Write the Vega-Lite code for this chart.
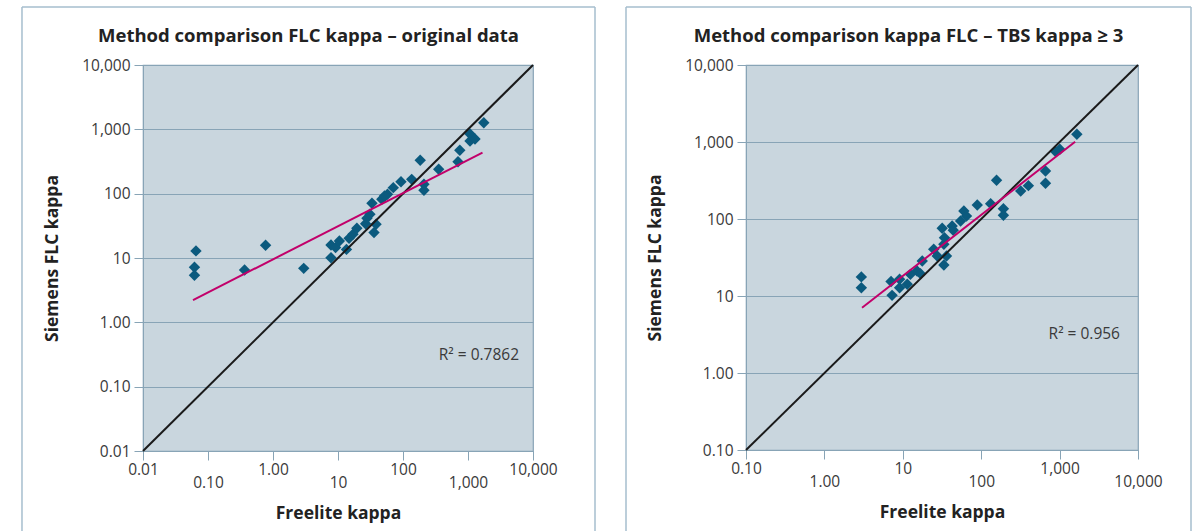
{
  "$schema": "https://vega.github.io/schema/vega-lite/v6.json",
  "padding": {"left": 20, "top": 5, "right": 0, "bottom": 0},
  "background": "white",
  "spacing": 27,
  "config": {
    "view": {"fill": "#c9d6de", "stroke": "#88a4b6", "strokeWidth": 1.2},
    "font": "Open Sans",
    "axis": {
      "labelFont": "Open Sans", "labelFontSize": 15.5, "labelColor": "#3a3a3a",
      "titleFont": "Open Sans", "titleFontSize": 17.5, "titleFontWeight": "bold", "titleColor": "#222222",
      "domainColor": "#88a4b6", "tickColor": "#88a4b6", "tickSize": 9, "gridColor": "#88a4b6", "gridWidth": 1.2,
      "labelFlush": false, "labelOverlap": false, "labelBound": false
    }
  },
  "hconcat": [
    {
      "width": 390, "height": 386,
      "title": {"text": "Method comparison FLC kappa – original data", "font": "Open Sans", "fontSize": 18.5, "fontWeight": "bold", "color": "#222222", "anchor": "middle", "frame": "bounds", "baseline": "alphabetic", "offset": -54},
      "layer": [
        {
          "data": {"values": [{"freelite": 0.0653, "siemens": 12.9}, {"freelite": 0.0619, "siemens": 7.2}, {"freelite": 0.0619, "siemens": 5.4},
            {"freelite": 0.365, "siemens": 6.5}, {"freelite": 0.769, "siemens": 15.8}, {"freelite": 2.97, "siemens": 6.9},
            {"freelite": 7.8, "siemens": 15.9}, {"freelite": 7.8, "siemens": 10.1}, {"freelite": 9.18, "siemens": 14.5},
            {"freelite": 10.5, "siemens": 18.4}, {"freelite": 13.5, "siemens": 13.6}, {"freelite": 14.8, "siemens": 20.2},
            {"freelite": 17.0, "siemens": 23.4}, {"freelite": 19.5, "siemens": 29}, {"freelite": 26.6, "siemens": 34.1},
            {"freelite": 27.9, "siemens": 41.4}, {"freelite": 33.3, "siemens": 70.8}, {"freelite": 35.8, "siemens": 24.8},
            {"freelite": 38.5, "siemens": 33.4}, {"freelite": 31.0, "siemens": 47.9}, {"freelite": 47.2, "siemens": 81.9},
            {"freelite": 57.8, "siemens": 97.7}, {"freelite": 70.9, "siemens": 124}, {"freelite": 93.1, "siemens": 153},
            {"freelite": 136, "siemens": 167}, {"freelite": 184, "siemens": 330}, {"freelite": 210, "siemens": 140},
            {"freelite": 210, "siemens": 113}, {"freelite": 354, "siemens": 239}, {"freelite": 702, "siemens": 314},
            {"freelite": 748, "siemens": 472}, {"freelite": 1074, "siemens": 659}, {"freelite": 1074, "siemens": 847},
            {"freelite": 1282, "siemens": 708}, {"freelite": 1750, "siemens": 1268}, {"freelite": 51.9, "siemens": 92}
          ]},
          "mark": {"type": "point", "shape": "diamond", "filled": true, "size": 130, "color": "#0b5a7e", "opacity": 1},
          "encoding": {
            "x": {"field": "freelite", "type": "quantitative", "scale": {"type": "log", "domain": [0.01, 10000], "nice": false},
              "axis": {"values": [0.01, 0.1, 1, 10, 100, 1000, 10000], "labelExpr": "datum.value < 10 ? format(datum.value, '.2f') : format(datum.value, ',')", "title": "Freelite kappa", "grid": false,
                "labelPadding": {"condition": {"test": "abs(round(log(datum.value)/LN10)) % 2 == 1", "value": 15}, "value": 2}, "titlePadding": 14}},
            "y": {"field": "siemens", "type": "quantitative", "scale": {"type": "log", "domain": [0.01, 10000], "nice": false},
              "axis": {"values": [0.01, 0.1, 1, 10, 100, 1000, 10000], "labelExpr": "datum.value < 10 ? format(datum.value, '.2f') : format(datum.value, ',')", "title": "Siemens FLC kappa", "grid": true, "labelPadding": 4, "titlePadding": 20}}
          }
        },
        {
          "data": {"values": [{}]},
          "mark": {"type": "rule", "color": "#a6bece", "strokeWidth": 1.5, "clip": false},
          "encoding": {"x": {"datum": 0.0001375, "type": "quantitative"}, "y": {"datum": 79700, "type": "quantitative"}, "y2": {"datum": 0.000571}}
        },
        {
          "data": {"values": [{}]},
          "mark": {"type": "rule", "color": "#a6bece", "strokeWidth": 1.5, "clip": false},
          "encoding": {"x": {"datum": 89930, "type": "quantitative"}, "y": {"datum": 79700, "type": "quantitative"}, "y2": {"datum": 0.000571}}
        },
        {
          "data": {"values": [{}]},
          "mark": {"type": "rule", "color": "#a6bece", "strokeWidth": 1.5, "clip": false},
          "encoding": {"x": {"datum": 0.0001375, "type": "quantitative"}, "x2": {"datum": 89930}, "y": {"datum": 79700, "type": "quantitative"}}
        },
        {
          "data": {"values": [{"v": 0.01}, {"v": 10000}]},
          "mark": {"type": "line", "color": "#1a1a1a", "strokeWidth": 2},
          "encoding": {"x": {"field": "v", "type": "quantitative"}, "y": {"field": "v", "type": "quantitative"}}
        },
        {
          "data": {"values": [{"fx": 0.0588, "fy": 2.22}, {"fx": 1671, "fy": 433}]},
          "mark": {"type": "line", "color": "#c2006a", "strokeWidth": 2},
          "encoding": {"x": {"field": "fx", "type": "quantitative"}, "y": {"field": "fy", "type": "quantitative"}}
        },
        {
          "data": {"values": [{"label": "R² = 0.7862"}]},
          "mark": {"type": "text", "align": "right", "baseline": "middle", "font": "Open Sans", "fontSize": 15.5, "color": "#3a3a3a"},
          "encoding": {"text": {"field": "label"}, "x": {"datum": 6095, "type": "quantitative"}, "y": {"datum": 0.31, "type": "quantitative"}}
        }
      ]
    },
    {
      "width": 392, "height": 385,
      "title": {"text": "Method comparison kappa FLC – TBS kappa ≥ 3", "font": "Open Sans", "fontSize": 18.5, "fontWeight": "bold", "color": "#222222", "anchor": "middle", "frame": "bounds", "baseline": "alphabetic", "offset": -54},
      "layer": [
        {
          "data": {"values": [
            {"freelite": 2.96, "siemens": 17.7}, {"freelite": 2.96, "siemens": 12.8}, {"freelite": 7.08, "siemens": 15.4},
            {"freelite": 7.3, "siemens": 10.2}, {"freelite": 9.1, "siemens": 16.5}, {"freelite": 9.1, "siemens": 12.8},
            {"freelite": 11.4, "siemens": 14.2}, {"freelite": 12.5, "siemens": 19.1}, {"freelite": 15.2, "siemens": 21.1},
            {"freelite": 16.8, "siemens": 19.5}, {"freelite": 17.7, "siemens": 28.5}, {"freelite": 24.8, "siemens": 40.4},
            {"freelite": 27.5, "siemens": 33.0}, {"freelite": 31.8, "siemens": 75.7}, {"freelite": 33.4, "siemens": 25.3},
            {"freelite": 36.1, "siemens": 33.0}, {"freelite": 33.4, "siemens": 46.9}, {"freelite": 34, "siemens": 57.2},
            {"freelite": 42.6, "siemens": 81.1}, {"freelite": 44, "siemens": 71.3}, {"freelite": 54.6, "siemens": 94.2},
            {"freelite": 60.1, "siemens": 127}, {"freelite": 65, "siemens": 109}, {"freelite": 89.1, "siemens": 152},
            {"freelite": 132, "siemens": 158}, {"freelite": 157, "siemens": 318}, {"freelite": 192, "siemens": 136},
            {"freelite": 192, "siemens": 112}, {"freelite": 319, "siemens": 231}, {"freelite": 400, "siemens": 271},
            {"freelite": 661, "siemens": 420}, {"freelite": 661, "siemens": 291}, {"freelite": 893, "siemens": 748},
            {"freelite": 1006, "siemens": 804}, {"freelite": 1660, "siemens": 1259}
          ]},
          "mark": {"type": "point", "shape": "diamond", "filled": true, "size": 130, "color": "#0b5a7e", "opacity": 1},
          "encoding": {
            "x": {"field": "freelite", "type": "quantitative", "scale": {"type": "log", "domain": [0.1, 10000], "nice": false},
              "axis": {"values": [0.1, 1, 10, 100, 1000, 10000], "labelExpr": "datum.value < 10 ? format(datum.value, '.2f') : format(datum.value, ',')", "title": "Freelite kappa", "grid": false,
                "labelPadding": {"condition": {"test": "round(log(datum.value)/LN10) % 2 == 0", "value": 15}, "value": 2}, "titlePadding": 14}},
            "y": {"field": "siemens", "type": "quantitative", "scale": {"type": "log", "domain": [0.1, 10000], "nice": false},
              "axis": {"values": [0.1, 1, 10, 100, 1000, 10000], "labelExpr": "datum.value < 10 ? format(datum.value, '.2f') : format(datum.value, ',')", "title": "Siemens FLC kappa", "grid": true, "labelPadding": 4, "titlePadding": 20}}
          }
        },
        {
          "data": {"values": [{}]},
          "mark": {"type": "rule", "color": "#a6bece", "strokeWidth": 1.5, "clip": false},
          "encoding": {"x": {"datum": 0.002947, "type": "quantitative"}, "y": {"datum": 56640, "type": "quantitative"}, "y2": {"datum": 0.00887}}
        },
        {
          "data": {"values": [{}]},
          "mark": {"type": "rule", "color": "#a6bece", "strokeWidth": 1.5, "clip": false},
          "encoding": {"x": {"datum": 47430, "type": "quantitative"}, "y": {"datum": 56640, "type": "quantitative"}, "y2": {"datum": 0.00887}}
        },
        {
          "data": {"values": [{}]},
          "mark": {"type": "rule", "color": "#a6bece", "strokeWidth": 1.5, "clip": false},
          "encoding": {"x": {"datum": 0.002947, "type": "quantitative"}, "x2": {"datum": 47430}, "y": {"datum": 56640, "type": "quantitative"}}
        },
        {
          "data": {"values": [{"v": 0.1}, {"v": 10000}]},
          "mark": {"type": "line", "color": "#1a1a1a", "strokeWidth": 2},
          "encoding": {"x": {"field": "v", "type": "quantitative"}, "y": {"field": "v", "type": "quantitative"}}
        },
        {
          "data": {"values": [{"fx": 3.02, "fy": 7.05}, {"fx": 1578, "fy": 1009}]},
          "mark": {"type": "line", "color": "#c2006a", "strokeWidth": 2},
          "encoding": {"x": {"field": "fx", "type": "quantitative"}, "y": {"field": "fy", "type": "quantitative"}}
        },
        {
          "data": {"values": [{"label": "R² = 0.956"}]},
          "mark": {"type": "text", "align": "right", "baseline": "middle", "font": "Open Sans", "fontSize": 15.5, "color": "#3a3a3a"},
          "encoding": {"text": {"field": "label"}, "x": {"datum": 5890, "type": "quantitative"}, "y": {"datum": 3.21, "type": "quantitative"}}
        }
      ]
    }
  ]
}
